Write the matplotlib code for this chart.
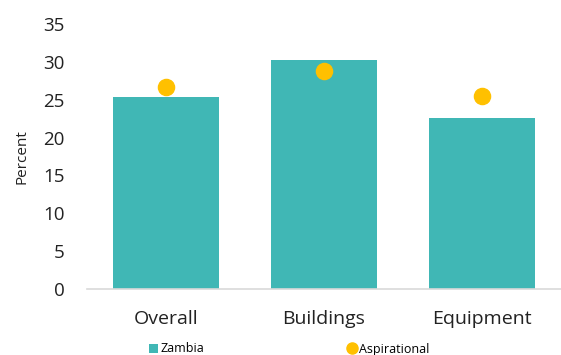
import matplotlib.pyplot as plt
from matplotlib.lines import Line2D
from matplotlib.patches import Patch

categories = ["Overall", "Buildings", "Equipment"]
zambia = [25.3, 30.2, 22.6]
aspirational = [26.7, 28.8, 25.5]

teal = "#40B7B5"
gold = "#FFC000"

plt.rcParams['font.family'] = ['Open Sans', 'DejaVu Sans']

fig = plt.figure(figsize=(5.61, 3.55), dpi=100)
ax = fig.add_axes([87 / 561, 1 - 289 / 355, 474 / 561, (289 - 24) / 355])

x = range(len(categories))
ax.bar(x, zambia, width=0.67, color=teal, zorder=2)
ax.scatter(x, aspirational, s=135, color=gold, zorder=3)

ax.set_xlim(-0.5, 2.5)
ax.set_ylim(0, 35)
ax.set_yticks(range(0, 36, 5))
ax.set_xticks(list(x))
ax.set_xticklabels(categories)
ax.tick_params(axis='y', length=0, pad=16, labelsize=13.5, labelcolor='#222222')
ax.tick_params(axis='x', length=0, pad=15, labelsize=14, labelcolor='#222222')
ax.set_ylabel("Percent", fontsize=11, color='#222222', labelpad=10)

for s in ['top', 'right', 'left']:
    ax.spines[s].set_visible(False)
ax.spines['bottom'].set_color('#D9D9D9')
ax.spines['bottom'].set_linewidth(1.2)

handles = [Patch(facecolor=teal, label="Zambia"),
           Line2D([], [], marker='o', linestyle='none', markersize=8,
                  color=gold, label="Aspirational")]
fig.legend(handles=handles, loc='center', bbox_to_anchor=(289 / 561, 1 - 349 / 355),
           ncol=2, frameon=False, fontsize=9, handlelength=0.7, handletextpad=0.2,
           columnspacing=11.5)

plt.savefig("out.png", dpi=100)
